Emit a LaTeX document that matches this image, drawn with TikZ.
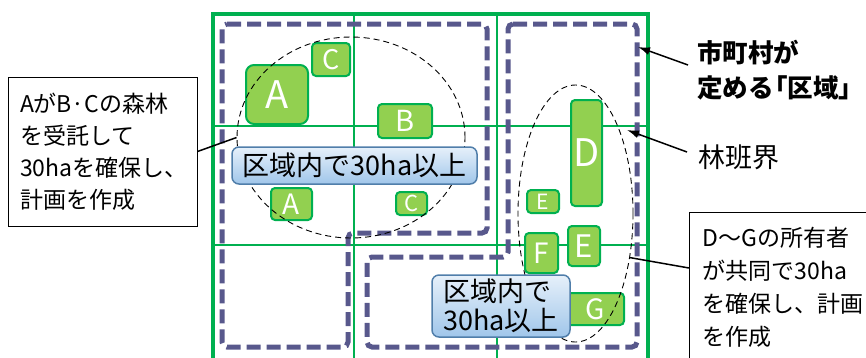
\documentclass[tikz,border=0pt]{standalone}
\usepackage{fontspec}
\setmainfont{Noto Sans CJK JP}
\usetikzlibrary{arrows.meta,shapes.geometric}

\definecolor{lotfill}{RGB}{146,208,80}
\definecolor{lotline}{RGB}{0,176,80}
\definecolor{zoneline}{RGB}{88,88,140}
\definecolor{notetop}{RGB}{230,240,250}
\definecolor{notebot}{RGB}{160,198,234}
\definecolor{noteline}{RGB}{80,126,170}

\begin{document}
\begin{tikzpicture}%
        [x=1pt, y=-1pt,
        outer/.style={draw=lotline, line width=4pt},
        lotgrid/.style={draw=lotline, line width=1.5pt},
        zone/.style={draw=zoneline, line width=5pt, dash pattern=on 14pt off 6pt, rounded corners=5pt},
        hull/.style={ellipse, draw=black, line width=0.9pt, dash pattern=on 6pt off 4pt, inner sep=0pt},
        lot/.style={draw=lotline, fill=lotfill, line width=2pt, rounded corners=4pt, text=white, inner sep=0pt},
        areanote/.style={draw=noteline, line width=1.5pt, rounded corners=7pt, top color=notetop, bottom color=notebot, inner sep=0pt, font=\fontsize{27}{29}\selectfont},
        callout/.style={draw=black, line width=1pt, fill=white, align=left, font=\fontsize{23}{32}\selectfont},
        link/.style={draw=black, line width=1.5pt},
        pointer/.style={link, -{Latex[length=12pt,width=8pt]}}]

    \useasboundingbox (0,0) rectangle (866,357);
    \clip (0,0) rectangle (866,357);

    %% compartments and frame
    \draw[lotgrid] (354,14) -- (354,380);
    \draw[lotgrid] (497,14) -- (497,380);
    \draw[lotgrid] (213,126) -- (648,126);
    \draw[lotgrid] (213,245) -- (648,245);
    \draw[outer] (213,14) rectangle (648,380);

    %% zones
    \draw[zone] (222,24) -- (487,24) -- (487,233) -- (348,233) -- (348,347) -- (222,347) -- cycle;
    \draw[zone] (508,24) -- (637,24) -- (637,347) -- (367,347) -- (367,257) -- (508,257) -- cycle;

    %% forest lots
    \node[lot, minimum width=62pt, minimum height=59pt, rounded corners=8pt, font=\fontsize{38}{38}\selectfont] (lotA) at (277,94.5) {A};
    \node[lot, minimum width=38pt, minimum height=33pt, font=\fontsize{27}{27}\selectfont] (lotC) at (331,59.5) {C};
    \node[lot, minimum width=54pt, minimum height=34pt, font=\fontsize{29}{29}\selectfont] (lotB) at (405,121) {B};
    \node[lot, minimum width=41pt, minimum height=32pt, font=\fontsize{28}{28}\selectfont] (lotA2) at (291.5,204) {A};
    \node[lot, minimum width=31pt, minimum height=23pt, font=\fontsize{22}{22}\selectfont] (lotC2) at (411.5,203.5) {C};
    \node[lot, minimum width=31pt, minimum height=106pt, font=\fontsize{38}{38}\selectfont] (lotD) at (586.5,153) {D};
    \node[lot, minimum width=32pt, minimum height=23pt, font=\fontsize{21}{21}\selectfont] (lotE2) at (543,201.5) {E};
    \node[lot, minimum width=33pt, minimum height=40pt, font=\fontsize{28}{28}\selectfont] (lotF) at (541.5,253) {F};
    \node[lot, minimum width=32pt, minimum height=40pt, font=\fontsize{31}{31}\selectfont] (lotE) at (584,246) {E};
    \node[lot, minimum width=58pt, minimum height=32pt, font=\fontsize{28}{28}\selectfont] (lotG) at (595,309) {G};

    %% hulls round the joined lots
    \node[hull, minimum width=228pt, minimum height=201pt] (hullL) at (351,137.5) {};
    \node[hull, minimum width=115pt, minimum height=257pt] (hullR) at (575.5,213.5) {};

    %% area notes
    \node[areanote, minimum width=245pt, minimum height=37pt] (noteL) at (354.5,165.5) {区域内で30ha以上};
    \node[areanote, minimum width=138pt, minimum height=62pt, align=left] (noteR) at (501,306) {区域内で\\30ha以上};

    %% callouts
    \node[callout, text width=165pt, inner xsep=12pt, minimum height=149pt] (boxL) at (102.5,151.5)
        {AがB·Cの森林\\を受託して\\30haを確保し、\\計画を作成};
    \node[callout, anchor=north west, text width=170pt, inner xsep=13pt, inner ysep=15pt, font=\fontsize{23}{33}\selectfont] (boxR) at (689,212)
        {D～Gの所有者\\が共同で30ha\\を確保し、計画\\を作成};
    \node[anchor=west, inner sep=2pt, align=left, font=\bfseries\fontsize{25.5}{35}\selectfont] (cityLbl) at (695,70) {市町村が\\定める\hspace{-0.45em}「区域」};
    \node[anchor=west, inner sep=2pt, font=\fontsize{27}{27}\selectfont] (lineLbl) at (696,157) {林班界};
    \coordinate (zoneEdge) at (638,47);
    \coordinate (gridEdge) at (627,130);

    %% connectors
    \draw[link] (boxL.east) -- (hullL.west);
    \draw[link] ([yshift=-56pt]boxR.north west) -- (hullR.-39);
    \draw[pointer] ([xshift=-7pt,yshift=5pt]cityLbl.west) -- (zoneEdge);
    \draw[pointer] ([xshift=-9pt,yshift=5pt]lineLbl.west) -- (gridEdge);
\end{tikzpicture}
\end{document}
